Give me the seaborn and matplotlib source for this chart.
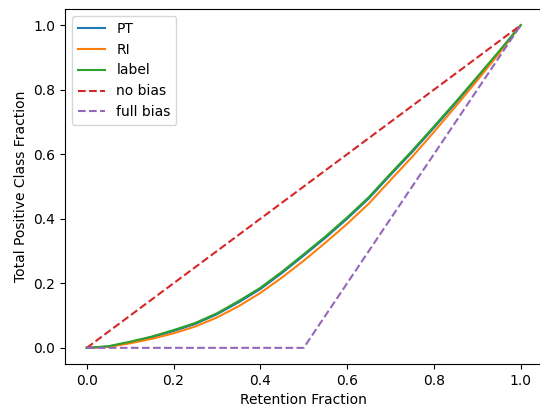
import numpy as np
import pandas as pd
import matplotlib
matplotlib.use("Agg")
import matplotlib.pyplot as plt
import seaborn as sns

# retention fraction grid
retention = [0.0, 0.05, 0.1, 0.15, 0.2, 0.25, 0.3, 0.35, 0.4, 0.45, 0.5,
             0.55, 0.6, 0.65, 0.7, 0.75, 0.8, 0.85, 0.9, 0.95, 1.0]

# total positive class fraction
pt = [0.0, 0.004, 0.017, 0.033, 0.052, 0.074, 0.104, 0.141, 0.182, 0.232, 0.286,
      0.341, 0.400, 0.463, 0.536, 0.607, 0.682, 0.758, 0.837, 0.917, 1.0]
ri = [0.0, 0.003, 0.014, 0.028, 0.045, 0.066, 0.094, 0.129, 0.170, 0.218, 0.270,
      0.326, 0.384, 0.447, 0.520, 0.592, 0.669, 0.748, 0.829, 0.912, 1.0]
label = [0.0, 0.005, 0.019, 0.035, 0.055, 0.077, 0.107, 0.145, 0.186, 0.236, 0.290,
         0.345, 0.404, 0.467, 0.540, 0.611, 0.686, 0.762, 0.840, 0.919, 1.0]

no_bias_x = [0.0, 1.0]
no_bias_y = [0.0, 1.0]
full_bias_x = [0.0, 0.5, 1.0]
full_bias_y = [0.0, 0.0, 1.0]

fig = plt.figure(figsize=(5.4, 4.07), dpi=100)
# original image is cropped on the right, so the axes run past the edge
ax = fig.add_axes([0.1204, 0.1057, 0.884, 0.872])

sns.lineplot(x=retention, y=pt, label='PT', color='C0', ax=ax)
sns.lineplot(x=retention, y=ri, label='RI', color='C1', ax=ax)
sns.lineplot(x=retention, y=label, label='label', color='C2', ax=ax)
sns.lineplot(x=no_bias_x, y=no_bias_y, label='no bias', color='C3',
             linestyle='--', ax=ax)
sns.lineplot(x=full_bias_x, y=full_bias_y, label='full bias', color='C4',
             linestyle='--', ax=ax)

ax.set_xlabel('Retention Fraction')
ax.set_ylabel('Total Positive Class Fraction')
ax.set_xlim(-0.05, 1.05)
ax.set_ylim(-0.05, 1.05)
ax.spines['right'].set_visible(False)
ax.legend(loc='upper left')

fig.savefig('out.png', dpi=100)
